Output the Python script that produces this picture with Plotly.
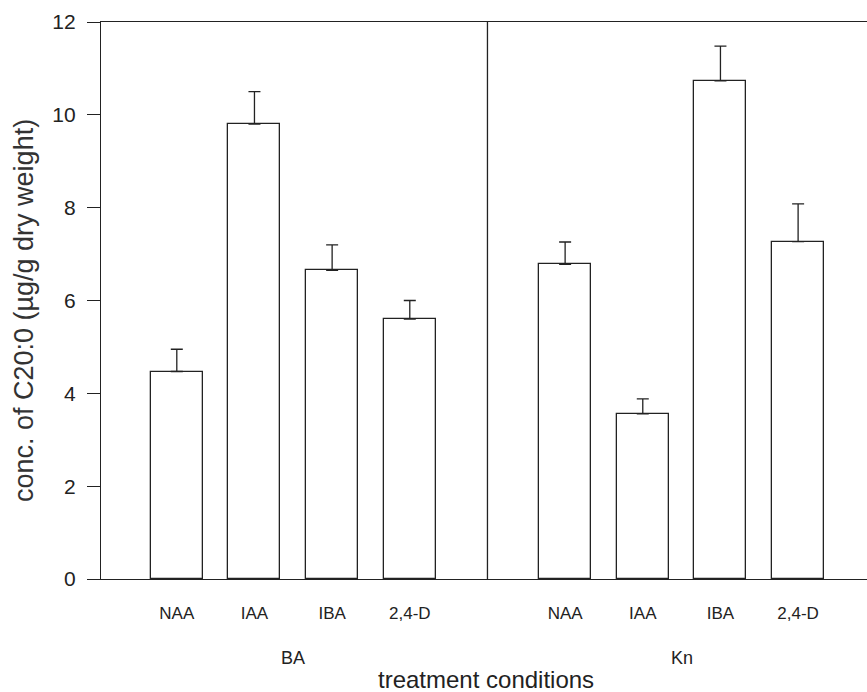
import plotly.graph_objects as go

# Data
treatments = ["NAA", "IAA", "IBA", "2,4-D"]
groups = ["BA", "Kn"]
ba_values = [4.47, 9.80, 6.65, 5.60]
ba_errors = [0.48, 0.70, 0.55, 0.40]
kn_values = [6.78, 3.56, 10.73, 7.27]
kn_errors = [0.48, 0.32, 0.75, 0.81]

y_ticks = [0, 2, 4, 6, 8, 10, 12]

ba_pos = [1, 2, 3, 4]
kn_pos = [6, 7, 8, 9]
group_centers = [2.5, 7.5]
divider_x = 5

FONT = "Liberation Sans, Arial, sans-serif"
INK = "#222222"

fig = go.Figure()
for pos, vals, errs in [(ba_pos, ba_values, ba_errors), (kn_pos, kn_values, kn_errors)]:
    fig.add_trace(go.Bar(
        x=pos, y=vals, width=0.67,
        marker=dict(color="white", line=dict(color=INK, width=1.3)),
        error_y=dict(type="data", array=errs, arrayminus=[0] * len(errs), symmetric=False,
                     color=INK, thickness=1.3, width=6),
        showlegend=False,
    ))

fig.add_shape(type="line", x0=divider_x, x1=divider_x, y0=0, y1=12,
              xref="x", yref="y", line=dict(color=INK, width=1.3))

for gx, g in zip(group_centers, groups):
    fig.add_annotation(x=gx, y=-0.142, xref="x", yref="paper", text=g, showarrow=False,
                       font=dict(family=FONT, size=18, color=INK), yanchor="middle")

fig.add_annotation(x=0.503, y=-0.18, xref="paper", yref="paper", text="treatment conditions",
                   showarrow=False, font=dict(family=FONT, size=24, color=INK), yanchor="middle")
fig.add_annotation(x=-0.1005, y=0.481, xref="paper", yref="paper",
                   text="conc. of C20:0 (µg/g dry weight)", textangle=-90,
                   showarrow=False, font=dict(family=FONT, size=27, color="#333333"), xanchor="center")

fig.update_layout(
    width=867, height=692,
    margin=dict(l=101, r=0, t=22, b=113),
    plot_bgcolor="white", paper_bgcolor="white",
    bargap=0,
    xaxis=dict(range=[0.024, 9.887], tickvals=ba_pos + kn_pos, ticktext=treatments + treatments,
               showgrid=False, zeroline=False, showline=True, linecolor=INK, linewidth=1.3,
               mirror=True, ticks="", ticklabelstandoff=18,
               tickfont=dict(family=FONT, size=17, color=INK)),
    yaxis=dict(range=[0, 12], tickvals=y_ticks, showgrid=False, zeroline=False,
               showline=True, linecolor=INK, linewidth=1.3, ticks="outside", ticklen=13,
               tickcolor=INK, tickwidth=1.3, ticklabelstandoff=7,
               tickfont=dict(family=FONT, size=21, color=INK)),
)

fig.write_html("out.html", config={"displayModeBar": False},
               post_script="document.body.style.margin='0';document.body.style.overflow='hidden';")
